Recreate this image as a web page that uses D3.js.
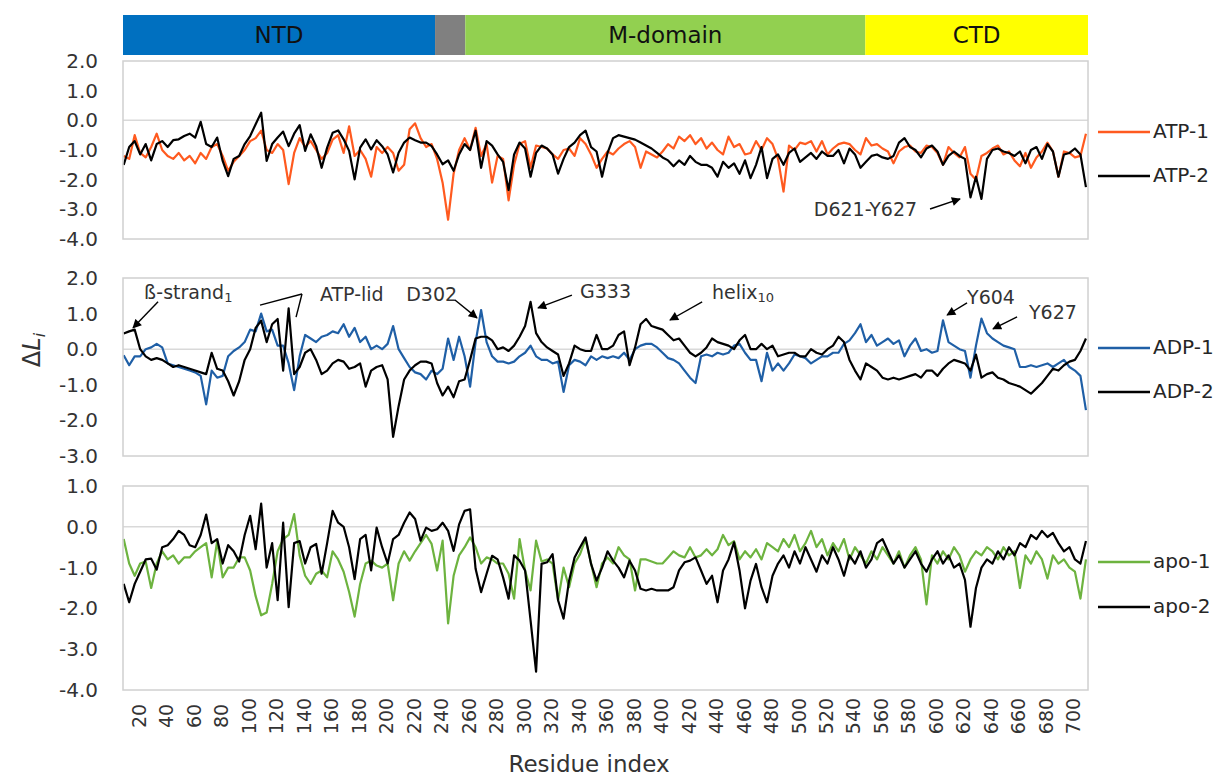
<!DOCTYPE html>
<html>
<head>
<meta charset="utf-8">
<script src="https://cdn.jsdelivr.net/npm/d3@7"></script>
<style>
  body { margin: 0; background: #fff; }
  svg text { font-family: "DejaVu Sans", "Noto Sans", sans-serif; fill: #262626; }
</style>
</head>
<body>
<svg id="chart" width="1226" height="776"></svg>
<script>
// ---- data -------------------------------------------------------------
// residue index grid shared by all six profiles
const residues = d3.range(8, 709, 4);

const atp1 = [
  -1.2,-1.3,-0.5,-1.1,-1.25,-0.9,-0.45,-1.0,-1.2,-1.3,
  -1.1,-1.35,-1.2,-1.45,-1.1,-1.3,-0.9,-0.8,-1.2,-1.7,
  -1.4,-1.2,-1.0,-0.7,-0.6,-0.35,-1.0,-1.1,-0.8,-1.0,
  -2.15,-1.1,-0.6,-0.9,-0.7,-1.0,-1.3,-1.1,-0.65,-0.5,
  -1.1,-0.2,-1.2,-1.0,-1.3,-1.9,-0.9,-1.1,-0.9,-1.1,
  -1.7,-1.5,-0.3,-0.1,-0.6,-0.9,-0.8,-1.3,-2.1,
  -3.35,-1.8,-1.0,-0.6,-1.0,-0.25,-1.2,-0.8,-2.1,-1.2,
  -1.3,-2.7,-1.5,-0.8,-0.7,-1.6,-0.85,-0.9,-0.95,-1.15,
  -1.3,-1.0,-0.95,-1.2,-0.6,-0.8,-1.15,-1.6,-1.3,-1.05,
  -1.15,-0.95,-0.8,-0.7,-0.9,-1.6,-1.05,-1.15,-1.25,-1.05,
  -0.8,-0.95,-0.55,-0.7,-0.5,-0.8,-0.6,-0.95,-0.75,-1.0,
  -1.15,-0.55,-0.9,-0.8,-1.15,-1.1,-0.7,-1.0,-0.6,
  -0.8,-1.3,-2.4,-0.85,-1.0,-0.75,-0.8,-0.7,-1.05,-0.7,
  -1.15,-0.95,-0.8,-0.75,-0.8,-1.0,-1.15,-0.6,-0.85,-0.8,
  -0.95,-1.05,-1.45,-1.05,-0.9,-0.85,-1.05,-1.1,-0.85,-0.9,
  -1.1,-1.5,-0.9,-1.1,-1.25,-0.9,-1.8,-2.0,-1.2,-1.1,
  -0.95,-0.85,-1.15,-1.05,-1.35,-1.55,-1.1,-1.6,-1.25,-1.05,
  -0.75,-1.05,-1.9,-1.05,-1.1,-1.25,-1.2,-0.45
];
const atp2 = [
  -1.5,-0.9,-0.7,-1.15,-0.8,-1.35,-0.8,-0.7,-0.9,-0.67,
  -0.64,-0.53,-0.45,-0.58,-0.05,-0.8,-0.9,-0.58,-1.37,-1.88,
  -1.3,-1.2,-0.8,-0.53,-0.13,0.26,-1.37,-0.8,-0.58,-0.38,
  -0.87,-0.45,-0.16,-1.03,-0.47,-0.87,-1.6,-0.92,-0.42,-0.34,
  -0.64,-1.03,-1.99,-0.92,-0.64,-0.98,-0.67,-0.87,-1.15,-1.76,
  -1.09,-0.75,-0.58,-0.67,-0.75,-0.75,-0.87,-1.15,-1.48,
  -1.35,-1.7,-1.15,-0.8,-1.0,-0.35,-1.6,-0.7,-0.85,-1.15,
  -1.4,-2.35,-1.15,-0.75,-0.95,-1.9,-1.1,-0.85,-0.95,-1.15,
  -1.8,-1.3,-0.9,-0.75,-0.5,-0.35,-0.9,-1.05,-1.9,-1.1,
  -0.6,-0.5,-0.55,-0.6,-0.65,-0.75,-0.85,-0.95,-1.1,-1.25,
  -1.35,-1.55,-1.35,-1.5,-1.2,-1.4,-1.5,-1.5,-1.6,-1.9,
  -1.4,-1.6,-1.45,-1.8,-1.35,-1.95,-1.5,-0.9,-1.95,
  -1.3,-1.15,-1.5,-1.1,-0.95,-1.4,-1.25,-1.1,-1.3,-1.05,
  -1.2,-1.2,-1.0,-1.45,-0.95,-1.15,-1.6,-1.4,-1.2,-1.15,
  -1.25,-1.3,-1.2,-0.75,-0.6,-0.9,-1.0,-1.25,-0.95,-0.85,
  -1.05,-1.5,-1.2,-1.05,-1.2,-1.3,-2.6,-1.9,-2.65,-1.3,
  -1.0,-0.95,-1.05,-1.1,-1.2,-1.05,-1.45,-1.0,-0.9,-1.3,
  -0.8,-1.05,-1.9,-1.15,-1.1,-0.95,-1.15,-2.25
];
const adp1 = [
  -0.17,-0.45,-0.2,-0.2,0.0,0.05,0.15,0.05,-0.4,-0.45,
  -0.5,-0.55,-0.6,-0.65,-0.75,-1.55,-0.6,-0.8,-0.75,-0.2,
  -0.05,0.05,0.2,0.55,0.5,1.0,0.5,0.55,0.1,0.1,
  -0.4,-1.15,-0.2,0.4,0.3,0.2,0.35,0.4,0.5,0.45,
  0.7,0.35,0.6,0.2,0.35,0.0,0.1,0.0,0.15,0.65,
  0.0,-0.25,-0.5,-0.65,-0.7,-0.85,-0.6,-0.7,-0.55,
  0.3,-0.3,0.35,-0.2,-1.05,0.2,1.1,0.2,-0.2,-0.35,
  -0.35,-0.4,-0.35,-0.2,-0.1,0.1,-0.2,-0.3,-0.3,-0.4,
  -0.35,-1.2,-0.45,-0.3,-0.35,-0.45,-0.2,-0.3,-0.2,-0.25,
  -0.2,-0.25,-0.1,-0.3,0.0,0.1,0.15,0.15,0.05,-0.1,
  -0.25,-0.3,-0.4,-0.6,-0.8,-0.95,-0.2,-0.15,-0.2,-0.1,
  -0.15,-0.1,0.1,0.15,-0.1,-0.3,-0.3,-0.9,-0.1,
  -0.6,-0.4,-0.6,-0.4,-0.15,-0.2,-0.25,-0.4,-0.3,-0.2,
  -0.2,-0.1,-0.1,0.15,0.25,0.45,0.7,0.2,0.4,0.1,
  0.2,0.3,0.15,0.25,-0.2,0.1,0.3,-0.05,0.0,-0.1,
  -0.05,0.81,0.2,0.1,0.0,-0.05,-0.8,0.1,0.86,0.45,
  0.3,0.2,0.1,0.05,0.0,-0.5,-0.5,-0.45,-0.5,-0.45,
  -0.4,-0.5,-0.4,-0.3,-0.5,-0.6,-0.75,-1.71
];
const adp2 = [
  0.44,0.5,0.55,0.0,-0.2,-0.3,-0.25,-0.3,-0.4,-0.5,
  -0.45,-0.5,-0.55,-0.6,-0.65,-0.7,-0.1,-0.55,-0.6,-0.9,
  -1.3,-0.9,-0.3,0.0,0.6,0.8,0.2,0.7,0.85,-0.6,
  1.15,-0.7,-0.5,-0.1,0.0,-0.3,-0.7,-0.6,-0.4,-0.3,
  -0.35,-0.55,-0.5,-0.4,-1.05,-0.6,-0.5,-0.45,-0.85,-2.46,
  -1.6,-0.85,-0.6,-0.45,-0.35,-0.35,-0.4,-0.95,-1.3,
  -1.05,-1.35,-0.9,-0.85,-0.3,0.3,0.35,0.35,0.25,0.0,
  0.05,-0.05,0.1,0.35,0.65,1.33,0.45,0.2,0.05,-0.05,
  -0.15,-0.75,-0.4,0.1,0.0,-0.05,-0.05,0.4,0.0,0.0,
  0.1,0.4,0.5,-0.45,0.05,0.7,0.85,0.65,0.6,0.55,
  0.4,0.25,0.3,0.1,-0.1,-0.2,-0.1,0.05,0.3,0.2,
  0.15,0.1,0.0,0.25,0.4,0.0,0.0,0.15,0.0,
  0.1,-0.2,-0.15,-0.1,-0.1,-0.2,-0.2,0.0,-0.1,-0.15,
  0.0,0.1,0.35,0.2,-0.3,-0.6,-0.85,-0.4,-0.5,-0.6,
  -0.8,-0.85,-0.8,-0.85,-0.8,-0.75,-0.7,-0.8,-0.6,-0.6,
  -0.75,-0.55,-0.4,-0.3,-0.35,-0.4,-0.6,-0.15,-0.8,-0.7,
  -0.65,-0.8,-0.85,-0.95,-1.0,-1.05,-1.15,-1.25,-1.1,-0.95,
  -0.75,-0.55,-0.6,-0.45,-0.35,-0.3,-0.05,0.3
];
const apo1 = [
  -0.3,-0.9,-1.2,-0.9,-0.85,-1.5,-0.9,-0.6,-0.8,-0.7,
  -0.9,-0.75,-0.75,-0.6,-0.5,-0.4,-1.24,-0.35,-1.24,-1.0,
  -1.0,-0.75,-0.75,-1.07,-1.7,-2.17,-2.1,-1.4,-0.6,-0.3,
  -0.2,0.31,-0.7,-1.2,-1.4,-1.15,-1.07,-1.24,-0.6,-0.8,
  -1.1,-1.6,-2.2,-1.4,-0.9,-0.83,-0.95,-1.0,-0.9,-1.8,
  -0.9,-0.6,-0.83,-0.6,-0.4,-0.2,-0.42,-1.07,-0.34,
  -2.37,-1.2,-0.7,-0.5,-0.26,-0.5,-0.9,-0.75,-0.8,-0.9,
  -0.9,-1.15,-1.76,-0.3,-1.07,-1.56,-0.34,-0.85,-0.8,-0.9,
  -1.8,-1.0,-1.48,-0.9,-0.67,-0.3,-0.9,-1.48,-0.9,-0.75,
  -0.9,-0.5,-0.7,-0.8,-1.56,-0.8,-0.8,-0.85,-0.9,-0.9,
  -0.75,-0.6,-0.7,-0.75,-0.5,-0.75,-0.7,-0.55,-0.7,-0.55,
  -0.2,-0.45,-0.35,-0.8,-0.6,-0.75,-0.55,-0.8,-0.4,
  -0.5,-0.6,-0.3,-0.5,-0.2,-0.6,-0.4,-0.1,-0.5,-0.3,
  -0.7,-0.4,-0.6,-0.3,-0.8,-0.5,-0.7,-0.9,-0.6,-0.8,
  -0.5,-0.7,-0.9,-0.6,-1.0,-0.7,-0.5,-0.8,-1.9,-0.7,
  -0.9,-0.6,-0.8,-0.5,-0.7,-1.1,-0.8,-0.6,-0.7,-0.5,
  -0.6,-0.8,-0.5,-0.7,-0.6,-1.5,-0.7,-0.9,-0.6,-0.8,
  -1.27,-0.7,-0.9,-0.8,-1.0,-1.1,-1.76,-0.8
];
const apo2 = [
  -1.4,-1.85,-1.4,-1.1,-0.8,-0.78,-1.05,-0.5,-0.45,-0.3,
  -0.1,-0.2,-0.45,-0.5,-0.2,0.3,-0.4,-0.3,-0.9,-0.45,
  -0.6,-0.85,-0.2,0.27,-0.55,0.57,-1.0,-0.4,-1.8,0.1,
  -1.97,-0.4,-0.35,-0.9,-0.5,-0.42,-1.15,-0.4,0.39,0.1,
  0.0,-0.5,-1.28,-0.3,-0.2,-1.07,-0.02,-0.5,-0.9,-0.3,
  -0.2,0.1,0.35,0.19,-0.34,-0.02,-0.1,-0.06,0.1,
  -0.1,-0.59,0.06,0.39,0.43,-1.03,-1.6,-1.15,-0.71,-0.8,
  -1.24,-1.76,-0.7,-0.83,-1.07,-2.3,-3.55,-0.91,-0.87,-0.67,
  -1.8,-2.25,-1.32,-0.75,-0.5,-0.26,-0.91,-1.32,-1.0,-0.6,
  -0.83,-1.0,-1.24,-0.83,-1.07,-1.52,-1.56,-1.52,-1.56,-1.56,
  -1.56,-1.48,-1.07,-0.87,-0.83,-0.75,-1.07,-1.4,-1.2,-1.85,
  -1.07,-0.8,-0.38,-1.07,-2.0,-1.32,-0.91,-1.48,-1.85,
  -1.2,-0.9,-0.7,-1.0,-0.6,-0.9,-0.5,-0.8,-1.1,-0.7,
  -0.9,-0.5,-0.8,-1.2,-0.7,-0.9,-0.6,-1.0,-0.8,-0.4,
  -0.3,-0.6,-0.9,-0.7,-1.0,-0.8,-0.6,-0.9,-1.1,-0.8,
  -0.6,-0.9,-0.7,-1.0,-0.9,-1.3,-2.45,-1.5,-1.0,-0.8,
  -0.9,-0.6,-0.8,-0.5,-0.7,-0.4,-0.5,-0.2,-0.3,-0.1,
  -0.25,-0.15,-0.4,-0.6,-0.5,-0.8,-0.9,-0.35
];

// tick labels
const xTickLabels = d3.range(20, 701, 20);
const yTicksATP = [2, 1, 0, -1, -2, -3, -4];
const yTicksADP = [2, 1, 0, -1, -2, -3];
const yTicksApo = [1, 0, -1, -2, -3, -4];

// structural domains along the sequence (residue spans)
const domainNames = ["NTD", "", "M-domain", "CTD"];
const domainStart = [7.5, 234.5, 256.5, 547.5];
const domainEnd = [234.5, 256.5, 547.5, 709.5];
const domainColors = ["#0070C0", "#808080", "#92D050", "#FFFF00"];

// ---- layout -----------------------------------------------------------
const svg = d3.select("#chart");
const plotLeft = 123, plotRight = 1088;
const x = d3.scaleLinear().domain([7.5, 709.5]).range([plotLeft, plotRight]);

const panels = [
  { top: 61,  bottom: 239, domain: [-4, 2], ticks: yTicksATP,
    series: [
      { name: "ATP-1", values: atp1, color: "#FF5A1F", legendY: 132 },
      { name: "ATP-2", values: atp2, color: "#000000", legendY: 176 } ] },
  { top: 278, bottom: 456, domain: [-3, 2], ticks: yTicksADP,
    series: [
      { name: "ADP-1", values: adp1, color: "#1F5FA6", legendY: 348 },
      { name: "ADP-2", values: adp2, color: "#000000", legendY: 392 } ] },
  { top: 486, bottom: 690, domain: [-4, 1], ticks: yTicksApo,
    series: [
      { name: "apo-1", values: apo1, color: "#6DB33F", legendY: 562 },
      { name: "apo-2", values: apo2, color: "#000000", legendY: 607 } ] }
];

// arrowhead marker
svg.append("defs").append("marker")
  .attr("id", "arrow").attr("viewBox", "0 0 10 10")
  .attr("refX", 9).attr("refY", 5)
  .attr("markerWidth", 10).attr("markerHeight", 9)
  .attr("markerUnits", "userSpaceOnUse")
  .attr("orient", "auto")
  .append("path").attr("d", "M0,0 L10,5 L0,10 z").attr("fill", "#000");

// domain bar
const bar = svg.append("g");
domainNames.forEach((name, i) => {
  bar.append("rect")
    .attr("x", x(domainStart[i])).attr("y", 15)
    .attr("width", x(domainEnd[i]) - x(domainStart[i])).attr("height", 40)
    .attr("fill", domainColors[i]);
  if (name) {
    bar.append("text")
      .attr("x", (x(domainStart[i]) + x(domainEnd[i])) / 2).attr("y", 36)
      .attr("text-anchor", "middle").attr("dominant-baseline", "middle")
      .attr("font-size", 23).style("fill", "#111").text(name);
  }
});

const fmt = v => v.toFixed(1);

panels.forEach(p => {
  const y = d3.scaleLinear().domain(p.domain).range([p.bottom, p.top]);
  p.y = y;
  const g = svg.append("g");

  // zero gridline
  g.append("line")
    .attr("x1", plotLeft).attr("x2", plotRight)
    .attr("y1", y(0)).attr("y2", y(0))
    .attr("stroke", "#d9d9d9").attr("stroke-width", 1.5);

  // y axis labels
  const yAxis = d3.axisLeft(y).tickValues(p.ticks).tickFormat(fmt).tickSize(0).tickPadding(25);
  const ya = g.append("g").attr("transform", `translate(${plotLeft},0)`).call(yAxis);
  ya.select(".domain").remove();
  ya.selectAll("text").attr("font-size", 20)
    .style("font-family", "\"DejaVu Sans\", sans-serif").style("fill", "#333");

  // profiles
  const line = d3.line().x((d, i) => x(residues[i])).y(d => y(d));
  p.series.forEach(s => {
    g.append("path").datum(s.values)
      .attr("d", line).attr("fill", "none")
      .attr("stroke", s.color).attr("stroke-width", 2.2)
      .attr("stroke-linejoin", "round");
    // legend entry
    g.append("line")
      .attr("x1", 1098).attr("x2", 1150).attr("y1", s.legendY).attr("y2", s.legendY)
      .attr("stroke", s.color).attr("stroke-width", 2.4);
    g.append("text")
      .attr("x", 1153).attr("y", s.legendY).attr("dominant-baseline", "middle")
      .attr("font-size", 20).text(s.name);
  });

  // panel frame
  g.append("rect")
    .attr("x", plotLeft).attr("y", p.top)
    .attr("width", plotRight - plotLeft).attr("height", p.bottom - p.top)
    .attr("fill", "none").attr("stroke", "#d0d0d0").attr("stroke-width", 1.5);
});

// x axis labels (rotated)
const xa = svg.append("g");
xTickLabels.forEach(t => {
  xa.append("text")
    .attr("transform", `translate(${x(t)},716) rotate(-90)`)
    .attr("text-anchor", "middle").attr("dominant-baseline", "middle")
    .attr("font-size", 19).style("fill", "#333").text(t);
});

svg.append("text")
  .attr("x", 589).attr("y", 765)
  .attr("text-anchor", "middle").attr("dominant-baseline", "middle")
  .attr("font-size", 23).style("fill", "#333")
  .text("Residue index");

// y axis title: ΔL_i
const yt = svg.append("text")
  .attr("transform", "translate(40,350) rotate(-90)")
  .attr("text-anchor", "middle").attr("font-size", 24).style("fill", "#333");
yt.append("tspan").text("Δ");
yt.append("tspan").attr("font-style", "italic").text("L");
yt.append("tspan").attr("font-style", "italic").attr("font-size", 16).attr("dy", 5).text("i");

// ---- annotations (residue, value coordinates) -------------------------
function annotText(panel, r, v, parts) {
  const t = svg.append("text")
    .attr("x", x(r)).attr("y", panel.y(v))
    .attr("dominant-baseline", "middle").attr("font-size", 19).style("fill", "#333");
  parts.forEach(([txt, sub]) => {
    if (sub) t.append("tspan").attr("font-size", 13).attr("dy", 5).text(txt);
    else t.append("tspan").text(txt);
  });
}
function arrow(panel, r1, v1, r2, v2, head = true) {
  const l = svg.append("line")
    .attr("x1", x(r1)).attr("y1", panel.y(v1))
    .attr("x2", x(r2)).attr("y2", panel.y(v2))
    .attr("stroke", "#000").attr("stroke-width", 1.4);
  if (head) l.attr("marker-end", "url(#arrow)");
}

const [pA, pB] = panels;
annotText(pA, 510, -3.02, [["D621-Y627"]]);
arrow(pA, 594.6, -2.99, 616.4, -2.65);

annotText(pB, 22.8, 1.58, [["ß-strand"], ["1", true]]);
arrow(pB, 33, 1.33, 14.8, 0.6);
annotText(pB, 150.8, 1.52, [["ATP-lid"]]);
arrow(pB, 107.2, 1.24, 137.7, 1.55, false);
arrow(pB, 137.7, 1.55, 133.4, 0.90, false);
annotText(pB, 213.5, 1.52, [["D302"]]);
arrow(pB, 249, 1.38, 265, 0.88);
annotText(pB, 340, 1.61, [["G333"]]);
arrow(pB, 334.1, 1.52, 309.4, 1.16);
annotText(pB, 436, 1.58, [["helix"], ["10", true]]);
arrow(pB, 428.8, 1.33, 405.4, 0.82);
annotText(pB, 621.5, 1.44, [["Y604"]]);
arrow(pB, 621.5, 1.30, 607, 0.96);
annotText(pB, 666.6, 1.02, [["Y627"]]);
arrow(pB, 657.9, 0.91, 640.4, 0.57);
</script>
</body>
</html>
